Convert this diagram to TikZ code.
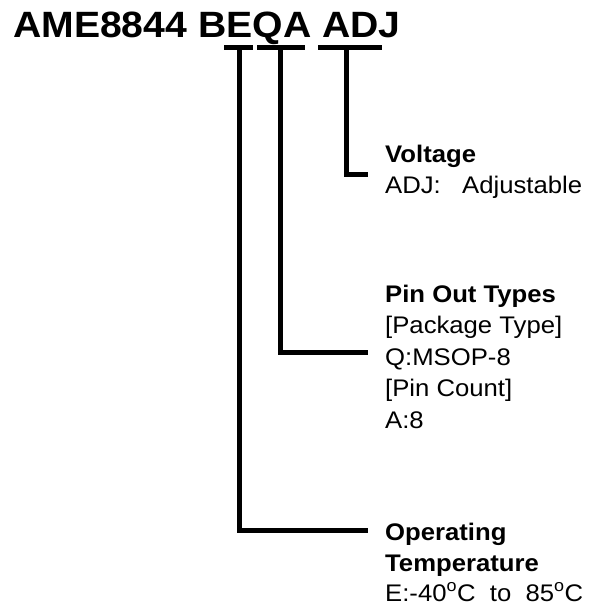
\documentclass[tikz,border=0pt]{standalone}
\usepackage{fontspec}
\setmainfont{Liberation Sans}[FakeStretch=1.07]
\begin{document}
\begin{tikzpicture}[x=1pt,y=-1pt,
  lead/.style={line width=5pt,line join=miter,line cap=butt},
  head/.style={anchor=base west,inner sep=0pt,font=\bfseries\fontsize{24}{29}\selectfont},
  body/.style={anchor=base west,inner sep=0pt,font=\fontsize{24}{29}\selectfont}]
\useasboundingbox (0,0) rectangle (595,607);
\node[anchor=base west,inner sep=0pt,font=\bfseries\fontsize{36.6}{40}\selectfont] (title) at (13,38) {AME8844 BEQA ADJ};
% bars
\coordinate (b1l) at (224,47.5); \coordinate (b1r) at (253,47.5);
\coordinate (b2l) at (257,47.5); \coordinate (b2r) at (305,47.5);
\coordinate (b3l) at (318,47.5); \coordinate (b3r) at (382,47.5);
\draw[lead] (b1l) -- (b1r);
\draw[lead] (b2l) -- (b2r);
\draw[lead] (b3l) -- (b3r);
% stems
\coordinate (s1) at (239,47.5); \coordinate (e1) at (368,530);
\coordinate (s2) at (280,47.5); \coordinate (e2) at (368,352);
\coordinate (s3) at (346,47.5); \coordinate (e3) at (368,174.5);
\draw[lead] (s1) |- (e1);
\draw[lead] (s2) |- (e2);
\draw[lead] (s3) |- (e3);
% texts
\node[head] (volt) at (385,162) {Voltage};
\node[body] (adj) at (385,193) {\makebox[77pt][l]{ADJ:}Adjustable};
\node[head] (pin) at (385,302) {Pin Out Types};
\node[body] (pkg) at (385,333) {[Package Type]};
\node[body] (msop) at (385,365) {Q:MSOP-8};
\node[body] (cnt) at (385,396) {[Pin Count]};
\node[body] (a8) at (385,428) {A:8};
\node[head] (op) at (385,540) {Operating};
\node[head] (temp) at (385,571) {Temperature};
\node[body] (rng) at (385,601) {E:-40\textsuperscript{o}C\ \ to\ \ 85\textsuperscript{o}C};
\end{tikzpicture}
\end{document}
